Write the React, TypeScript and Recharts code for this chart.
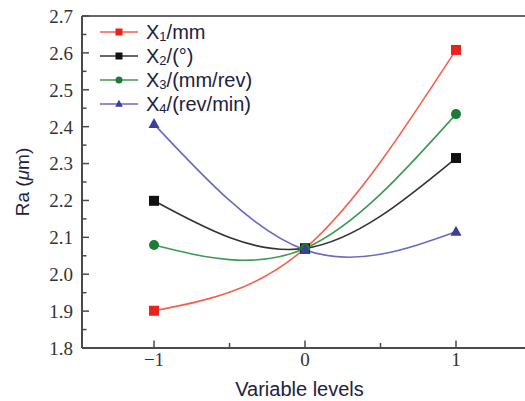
import React from 'react';
import { LineChart, Line, XAxis, YAxis, Legend, ReferenceLine } from 'recharts';

// variable levels (coded) and Ra response for each factor
const levels = [-1, 0, 1];
const x1Ra = [1.901, 2.07, 2.608];
const x2Ra = [2.199, 2.07, 2.315];
const x3Ra = [2.079, 2.07, 2.434];
const x4Ra = [2.407, 2.066, 2.115];

const xTicks = [-1, -0.5, 0, 0.5, 1];
const xTickLabels: Record<string, string> = { '-1': '−1', '0': '0', '1': '1' };
const yTicks = [
  1.8, 1.85, 1.9, 1.95, 2.0, 2.05, 2.1, 2.15, 2.2, 2.25,
  2.3, 2.35, 2.4, 2.45, 2.5, 2.55, 2.6, 2.65, 2.7,
];

const series = [
  { key: 'x1', sub: '1', unit: '/mm', values: x1Ra, line: '#f5604c', mark: '#e8231c', shape: 'square' },
  { key: 'x2', sub: '2', unit: '/(°)', values: x2Ra, line: '#333333', mark: '#111111', shape: 'square' },
  { key: 'x3', sub: '3', unit: '/(mm/rev)', values: x3Ra, line: '#3d9a52', mark: '#1f7b35', shape: 'circle' },
  { key: 'x4', sub: '4', unit: '/(rev/min)', values: x4Ra, line: '#6a6abf', mark: '#3d3d9e', shape: 'triangle' },
];

const data = levels.map((x, i) => {
  const row: Record<string, number> = { x };
  series.forEach((s) => (row[s.key] = s.values[i]));
  return row;
});

const axisColor = '#4a4a4a';
const serif = '"Liberation Serif", "Times New Roman", serif';
const sans = '"Liberation Sans", Arial, sans-serif';
const textColor = '#20223e';

const Marker = ({ cx, cy, shape, color, r = 5 }: any) => {
  if (shape === 'square') return <rect x={cx - r} y={cy - r} width={2 * r} height={2 * r} fill={color} />;
  if (shape === 'circle') return <circle cx={cx} cy={cy} r={r} fill={color} />;
  return <polygon points={`${cx},${cy - r * 1.2} ${cx + r * 1.1},${cy + r * 0.8} ${cx - r * 1.1},${cy + r * 0.8}`} fill={color} />;
};

const makeDot = (shape: string, color: string) => (props: any) => (
  <Marker key={`${shape}-${props.index}`} cx={props.cx} cy={props.cy} shape={shape} color={color} />
);

const YTick = ({ x, y, payload }: any) => {
  const v = payload.value;
  const major = Math.round(v * 100) % 10 === 0;
  return (
    <g>
      <line x1={x} x2={x + (major ? 7 : 4.5)} y1={y} y2={y} stroke={axisColor} strokeWidth={1.5} />
      {major && (
        <text x={x - 9} y={y} dy="0.36em" textAnchor="end" fontFamily={serif} fontSize={19} fill="#333">
          {v.toFixed(1)}
        </text>
      )}
    </g>
  );
};

const XTick = ({ x, y, payload }: any) => {
  const label = xTickLabels[String(payload.value)];
  return (
    <g>
      <line x1={x} x2={x} y1={y} y2={y - (label ? 7.5 : 5)} stroke={axisColor} strokeWidth={1.5} />
      {label && (
        <text x={x} y={y + 18} textAnchor="middle" fontFamily={serif} fontSize={19} fill="#333">
          {label}
        </text>
      )}
    </g>
  );
};

const YLabel = ({ viewBox }: any) => (
  <text
    x={viewBox.x + 22}
    y={viewBox.y + viewBox.height / 2}
    transform={`rotate(-90 ${viewBox.x + 22} ${viewBox.y + viewBox.height / 2})`}
    textAnchor="middle"
    dominantBaseline="central"
    fontFamily={sans}
    fontSize={19}
    fill={textColor}
  >
    Ra (<tspan fontStyle="italic">μ</tspan>m)
  </text>
);

const XLabel = ({ viewBox }: any) => (
  <text x={viewBox.x + viewBox.width / 2 - 4} y={396} textAnchor="middle" fontFamily={sans} fontSize={20} fill={textColor}>
    Variable levels
  </text>
);

const LegendBox = () => (
  <div style={{ fontFamily: sans, fontSize: 20, color: textColor }}>
    {series.map((s) => (
      <div key={s.key} style={{ display: 'flex', alignItems: 'center', height: 24 }}>
        <svg width={38} height={14} style={{ marginRight: 8 }}>
          <line x1={0} x2={38} y1={7} y2={7} stroke={s.line} strokeWidth={1.6} />
          <Marker cx={19} cy={7} shape={s.shape} color={s.mark} r={3.5} />
        </svg>
        <span>
          X<span style={{ fontSize: 13, position: 'relative', top: 2 }}>{s.sub}</span>
          {s.unit}
        </span>
      </div>
    ))}
  </div>
);

export default function App() {
  return (
    <div style={{ position: 'absolute', left: 0, top: 0, width: 525, height: 401, overflow: 'hidden', background: '#fff' }}>
      <LineChart width={525} height={401} data={data} margin={{ top: 16, right: 0, bottom: 0, left: 0 }}>
        <XAxis
          dataKey="x"
          type="number"
          domain={[-1.477, 1.457]}
          ticks={xTicks}
          tickSize={0}
          tickMargin={0}
          tickLine={false}
          tick={<XTick />}
          height={53}
          axisLine={{ stroke: axisColor, strokeWidth: 2 }}
          label={<XLabel />}
        />
        <YAxis
          type="number"
          domain={[1.8, 2.7]}
          ticks={yTicks}
          interval={0}
          tickSize={0}
          tickMargin={0}
          tickLine={false}
          tick={<YTick />}
          width={82}
          axisLine={{ stroke: axisColor, strokeWidth: 2 }}
          label={<YLabel />}
        />
        <ReferenceLine y={2.7} stroke="#666" strokeWidth={2} />
        <Legend
          layout="horizontal"
          verticalAlign="middle"
          align="center"
          content={<LegendBox />}
          wrapperStyle={{ position: 'absolute', left: 100, top: 20, width: 'auto', height: 'auto' }}
        />
        {series.map((s) => (
          <Line
            key={s.key}
            dataKey={s.key}
            type="natural"
            stroke={s.line}
            strokeWidth={1.6}
            dot={makeDot(s.shape, s.mark)}
            activeDot={false}
            isAnimationActive={false}
          />
        ))}
      </LineChart>
    </div>
  );
}
